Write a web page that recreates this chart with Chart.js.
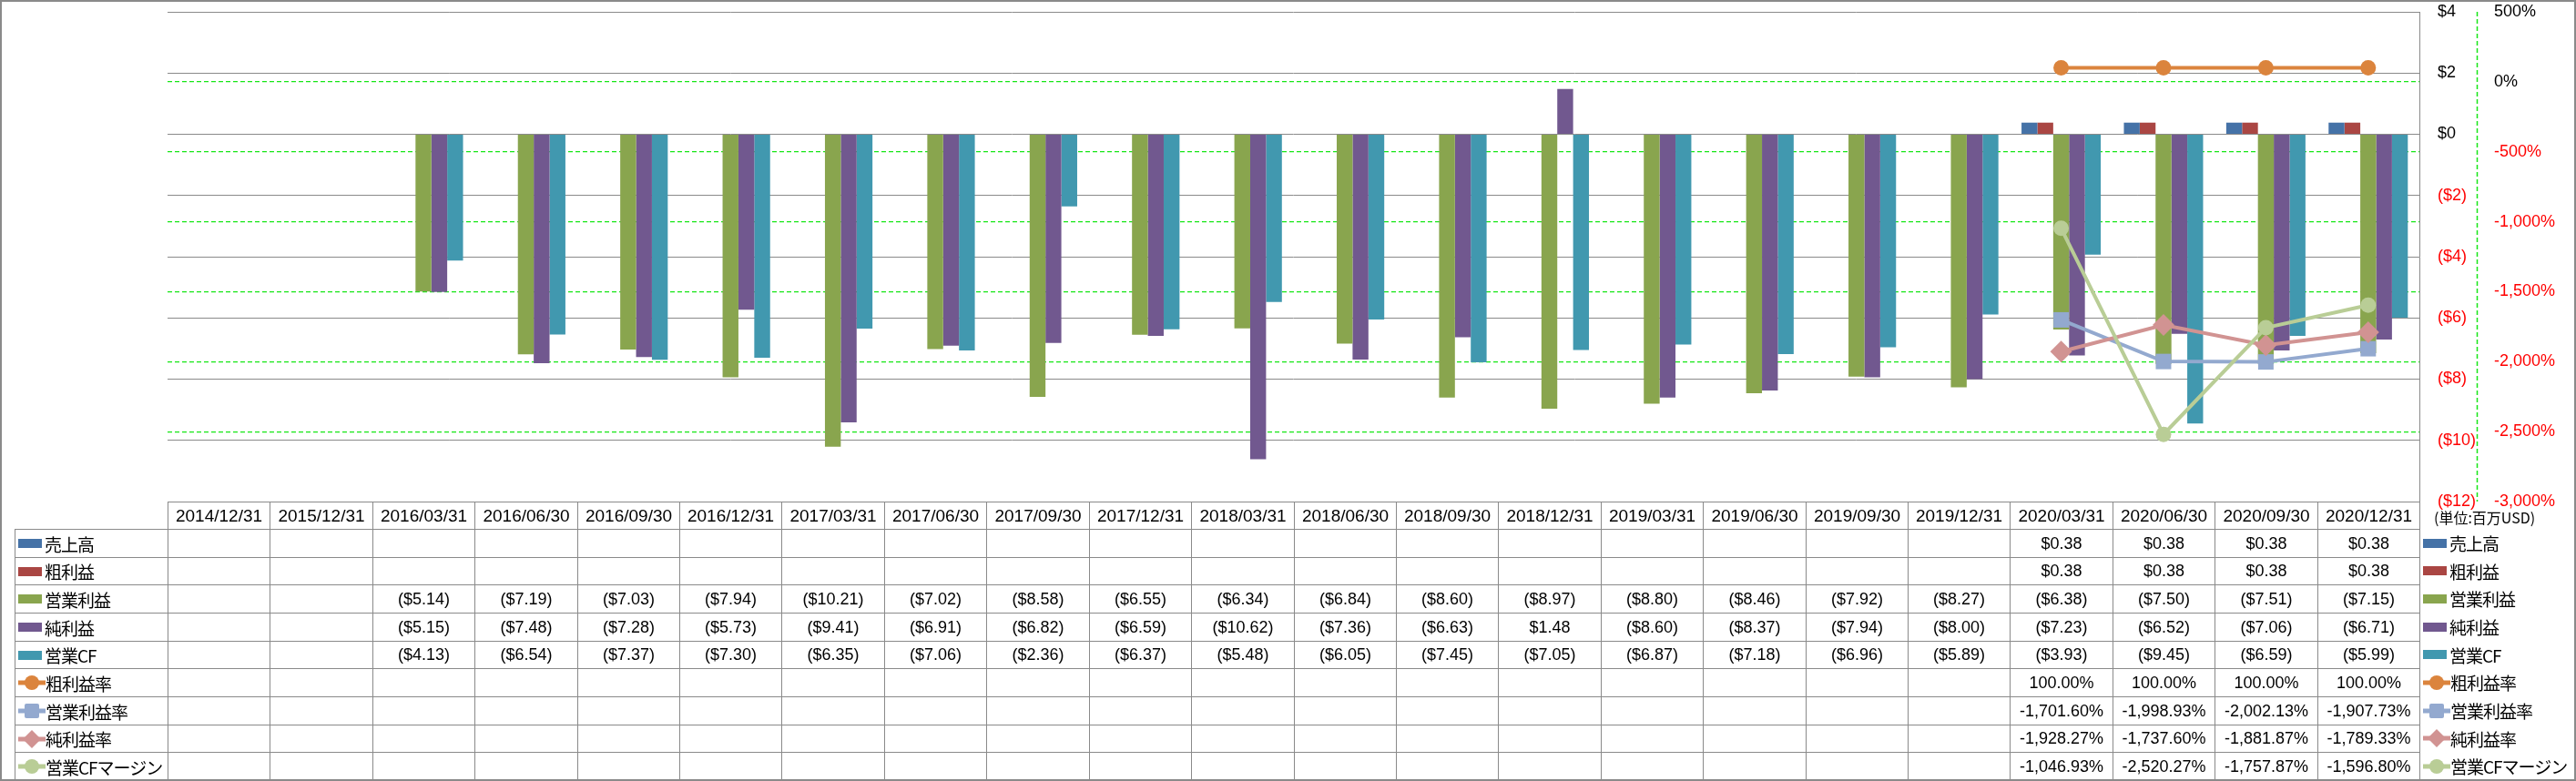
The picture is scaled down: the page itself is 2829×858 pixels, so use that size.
<!DOCTYPE html>
<html lang="ja">
<head>
<meta charset="utf-8">
<title>業績推移</title>
<script src="https://cdn.jsdelivr.net/npm/chart.js@4.4.1/dist/chart.umd.min.js"></script>
<style>
    body{
        margin:0;
        background:#fff;
    }
    #wrap{
        position:relative;
        width:2829px;
        height:858px;
        overflow:hidden;
        background:#fff;
        font-family:"Liberation Sans", "Noto Sans CJK JP", sans-serif;
        color:#000;
    }
    #chart{
        position:absolute;
        left:0;
        top:0;
    }
    #frame{
        position:absolute;
        left:0;
        top:0;
        width:2829px;
        height:858px;
        box-sizing:border-box;
        border:2px solid #8a8a8a;
        pointer-events:none;
    }
    .cell{
        position:absolute;
        box-sizing:border-box;
        border:1px solid #8a8a8a;
        display:flex;
        align-items:center;
        justify-content:center;
        font-size:18px;
        white-space:nowrap;
    }
    .date{
        font-size:19px;
    }
    .legCell{
        justify-content:flex-start;
        padding-left:3px;
    }
    .leg{
        position:absolute;
        display:flex;
        align-items:center;
        white-space:nowrap;
    }
    .jp{
        font-family:"Noto Sans CJK JP", sans-serif;
        font-size:19px;
        letter-spacing:-1px;
    }
    .unit{
        position:absolute;
        font-family:"Noto Sans CJK JP", sans-serif;
        font-size:16px;
        white-space:nowrap;
    }
</style>
</head>
<body>
<div id="wrap">
    <canvas id="chart" width="2829" height="858"></canvas>
    <div id="table"></div>
    <div id="frame"></div>
</div>

<script>
/* =========================
   DATA
========================= */

const dates = [
    "2014/12/31", "2015/12/31", "2016/03/31", "2016/06/30", "2016/09/30", "2016/12/31",
    "2017/03/31", "2017/06/30", "2017/09/30", "2017/12/31", "2018/03/31", "2018/06/30",
    "2018/09/30", "2018/12/31", "2019/03/31", "2019/06/30", "2019/09/30", "2019/12/31",
    "2020/03/31", "2020/06/30", "2020/09/30", "2020/12/31"
];

// 単位: 百万USD
const sales = [
    null, null, null, null, null, null, null, null, null, null, null, null,
    null, null, null, null, null, null, 0.38, 0.38, 0.38, 0.38
];

const grossProfit = [
    null, null, null, null, null, null, null, null, null, null, null, null,
    null, null, null, null, null, null, 0.38, 0.38, 0.38, 0.38
];

const operatingIncome = [
    null, null, -5.14, -7.19, -7.03, -7.94, -10.21, -7.02, -8.58, -6.55, -6.34, -6.84,
    -8.60, -8.97, -8.80, -8.46, -7.92, -8.27, -6.38, -7.50, -7.51, -7.15
];

const netIncome = [
    null, null, -5.15, -7.48, -7.28, -5.73, -9.41, -6.91, -6.82, -6.59, -10.62, -7.36,
    -6.63, 1.48, -8.60, -8.37, -7.94, -8.00, -7.23, -6.52, -7.06, -6.71
];

const operatingCF = [
    null, null, -4.13, -6.54, -7.37, -7.30, -6.35, -7.06, -2.36, -6.37, -5.48, -6.05,
    -7.45, -7.05, -6.87, -7.18, -6.96, -5.89, -3.93, -9.45, -6.59, -5.99
];

// 単位: %
const grossMargin = [
    null, null, null, null, null, null, null, null, null, null, null, null,
    null, null, null, null, null, null, 100.00, 100.00, 100.00, 100.00
];

const operatingMargin = [
    null, null, null, null, null, null, null, null, null, null, null, null,
    null, null, null, null, null, null, -1701.60, -1998.93, -2002.13, -1907.73
];

const netMargin = [
    null, null, null, null, null, null, null, null, null, null, null, null,
    null, null, null, null, null, null, -1928.27, -1737.60, -1881.87, -1789.33
];

const cfMargin = [
    null, null, null, null, null, null, null, null, null, null, null, null,
    null, null, null, null, null, null, -1046.93, -2520.27, -1757.87, -1596.80
];

const dollarTicks = [4, 2, 0, -2, -4, -6, -8, -10, -12];
const percentTicks = [500, 0, -500, -1000, -1500, -2000, -2500, -3000];


/* =========================
   STYLE
========================= */

const GRID_GRAY = '#8a8a8a';
const GRID_GREEN = '#16e616';
const NONE = 'rgba(0,0,0,0)';

const colors = {
    sales: '#4572A7',
    gross: '#AA4643',
    op: '#89A54E',
    net: '#71588F',
    cf: '#4198AF',
    grossM: '#DB843D',
    opM: '#93A9CF',
    netM: '#D19392',
    cfM: '#B9CD96'
};


/* =========================
   FORMATTERS
========================= */

function fmtUsd(v){
    if(v == null) return "";
    if(v < 0) return "($" + Math.abs(v).toFixed(2) + ")";
    return "$" + v.toFixed(2);
}

function fmtPct(v){
    if(v == null) return "";
    let s = Math.abs(v).toLocaleString('en-US', {minimumFractionDigits: 2, maximumFractionDigits: 2});
    return (v < 0 ? "-" : "") + s + "%";
}

function fmtUsdTick(v){
    if(v < 0) return "($" + Math.abs(v) + ")";
    return "$" + v;
}

function fmtPctTick(v){
    return v.toLocaleString('en-US') + "%";
}


/* =========================
   SERIES LIST (table + chart)
========================= */

const series = [
    { name: '売上高',         data: sales,           color: colors.sales,  kind: 'bar',  fmt: fmtUsd },
    { name: '粗利益',         data: grossProfit,     color: colors.gross,  kind: 'bar',  fmt: fmtUsd },
    { name: '営業利益',       data: operatingIncome, color: colors.op,     kind: 'bar',  fmt: fmtUsd },
    { name: '純利益',         data: netIncome,       color: colors.net,    kind: 'bar',  fmt: fmtUsd },
    { name: '営業CF',         data: operatingCF,     color: colors.cf,     kind: 'bar',  fmt: fmtUsd },
    { name: '粗利益率',       data: grossMargin,     color: colors.grossM, kind: 'circle',  fmt: fmtPct },
    { name: '営業利益率',     data: operatingMargin, color: colors.opM,    kind: 'rect',    fmt: fmtPct },
    { name: '純利益率',       data: netMargin,       color: colors.netM,   kind: 'rectRot', fmt: fmtPct },
    { name: '営業CFマージン', data: cfMargin,        color: colors.cfM,    kind: 'circle',  fmt: fmtPct }
];


/* =========================
   PLUGIN: % AXIS LINE (dashed)
========================= */

const percentAxisLine = {
    id: 'percentAxisLine',

    afterDraw(chart){
        const s = chart.scales.y2;
        const ctx = chart.ctx;

        ctx.save();
        ctx.strokeStyle = GRID_GREEN;
        ctx.lineWidth = 1.5;
        ctx.setLineDash([5, 3]);
        ctx.beginPath();
        ctx.moveTo(s.left + 0.5, s.top);
        ctx.lineTo(s.left + 0.5, s.bottom);
        ctx.stroke();
        ctx.restore();
    }
};


/* =========================
   CHART
========================= */

let datasets = [];
let lineOrder = 4;

series.forEach(function(s){
    if(s.kind === 'bar'){
        datasets.push({
            type: 'bar',
            label: s.name,
            data: s.data,
            backgroundColor: s.color,
            borderWidth: 0,
            yAxisID: 'y',
            order: 10
        });
    } else {
        let r = (s.kind === 'circle') ? 8.5 : 12;
        datasets.push({
            type: 'line',
            label: s.name,
            data: s.data,
            borderColor: s.color,
            backgroundColor: s.color,
            borderWidth: 4,
            tension: 0,
            fill: false,
            pointStyle: s.kind,
            pointRadius: r,
            pointBackgroundColor: s.color,
            pointBorderColor: s.color,
            pointBorderWidth: 0,
            yAxisID: 'y2',
            order: lineOrder--
        });
    }
});

// right axes: label offset done with invisible tick marks so the
// label padding does not push the plot area down
function fitAxis(width){
    return function(scale){
        scale.width = width;
        scale.paddingTop = 0;
        scale.paddingBottom = 0;
    };
}

const chart = new Chart(document.getElementById('chart'), {

    type: 'bar',

    data: {
        labels: dates,
        datasets: datasets
    },

    options: {
        responsive: false,
        animation: false,
        devicePixelRatio: 1,

        layout: {
            padding: { left: 184, top: 13, right: 2, bottom: 307 }
        },

        datasets: {
            bar: {
                categoryPercentage: 0.774,
                barPercentage: 1.0
            }
        },

        plugins: {
            legend: { display: false },
            tooltip: { enabled: false }
        },

        scales: {
            x: {
                display: false,
                offset: true
            },

            y: {
                position: 'right',
                weight: 0,
                min: dollarTicks[dollarTicks.length - 1],
                max: dollarTicks[0],
                afterFit: fitAxis(63),
                afterBuildTicks: function(scale){
                    scale.ticks = dollarTicks.map(v => ({ value: v }));
                },
                grid: {
                    color: GRID_GRAY,
                    lineWidth: 1,
                    drawTicks: true,
                    tickLength: 20,
                    tickColor: NONE
                },
                border: {
                    display: true,
                    color: GRID_GRAY,
                    width: 1
                },
                ticks: {
                    padding: 0,
                    font: { family: 'Liberation Sans', size: 18 },
                    color: (c) => (c.tick && c.tick.value < 0) ? '#ff0000' : '#000000',
                    callback: (v) => fmtUsdTick(v)
                }
            },

            y2: {
                position: 'right',
                weight: 1,
                min: percentTicks[percentTicks.length - 1],
                max: percentTicks[0],
                afterFit: fitAxis(107),
                afterBuildTicks: function(scale){
                    scale.ticks = percentTicks.map(v => ({ value: v }));
                },
                grid: {
                    color: (c) => {
                        if(c.tick && (c.tick.value === percentTicks[0] ||
                                      c.tick.value === percentTicks[percentTicks.length - 1])){
                            return NONE;
                        }
                        return GRID_GREEN;
                    },
                    lineWidth: 1.2,
                    drawTicks: true,
                    tickLength: 19,
                    tickColor: NONE
                },
                border: {
                    display: false,
                    dash: [5, 3]
                },
                ticks: {
                    padding: 0,
                    font: { family: 'Liberation Sans', size: 18 },
                    color: (c) => (c.tick && c.tick.value < 0) ? '#ff0000' : '#000000',
                    callback: (v) => fmtPctTick(v)
                }
            }
        }
    },

    plugins: [percentAxisLine]
});


/* =========================
   DATA TABLE (HTML)
========================= */

function legendMark(s){
    if(s.kind === 'bar'){
        return '<span style="display:inline-block;width:26px;height:10px;background:' + s.color +
               ';margin-right:3px;flex:none;"></span>';
    }

    let m = '';
    if(s.kind === 'circle'){
        m = '<circle cx="15" cy="10" r="8" fill="' + s.color + '"/>';
    } else if(s.kind === 'rect'){
        m = '<rect x="7" y="2" width="16" height="16" rx="2" fill="' + s.color + '"/>';
    } else {
        m = '<polygon points="15,0 25,10 15,20 5,10" fill="' + s.color + '"/>';
    }

    return '<svg width="30" height="20" style="flex:none;">' +
           '<line x1="0" y1="10" x2="30" y2="10" stroke="' + s.color + '" stroke-width="5"/>' +
           m + '</svg>';
}

function buildTable(){

    const area = chart.chartArea;
    const box = document.getElementById('table');
    const n = dates.length;
    const colW = (area.right - area.left) / n;

    let colX = [];
    for(let i = 0; i <= n; i++){
        colX.push(Math.round(area.left + i * colW));
    }

    const headTop = Math.round(area.bottom);
    const headBottom = headTop + 30;
    const rowH = (857 - headBottom) / series.length;

    let rowY = [headBottom];
    for(let j = 1; j <= series.length; j++){
        rowY.push(Math.round(headBottom + j * rowH));
    }

    const legLeft = 16;
    let html = '';

    function cell(x1, y1, x2, y2, cls, text){
        html += '<div class="cell ' + cls + '" style="left:' + x1 + 'px;top:' + y1 +
                'px;width:' + (x2 - x1 + 1) + 'px;height:' + (y2 - y1 + 1) + 'px;">' + text + '</div>';
    }

    // header
    for(let i = 0; i < n; i++){
        cell(colX[i], headTop, colX[i + 1], headBottom, 'date', dates[i]);
    }

    // rows
    series.forEach(function(s, j){
        cell(legLeft, rowY[j], colX[0], rowY[j + 1], 'legCell jp', legendMark(s) + s.name);

        for(let i = 0; i < n; i++){
            cell(colX[i], rowY[j], colX[i + 1], rowY[j + 1], '', s.fmt(s.data[i]));
        }

        // right legend
        html += '<div class="leg jp" style="left:' + (colX[n] + 4) + 'px;top:' + rowY[j] +
                'px;height:' + (rowY[j + 1] - rowY[j]) + 'px;">' + legendMark(s) + s.name + '</div>';
    });

    html += '<div class="unit" style="left:' + (colX[n] + 16) + 'px;top:' + (headTop + 5) + 'px;">(単位:百万USD)</div>';

    box.innerHTML = html;
}

buildTable();
</script>
</body>
</html>
